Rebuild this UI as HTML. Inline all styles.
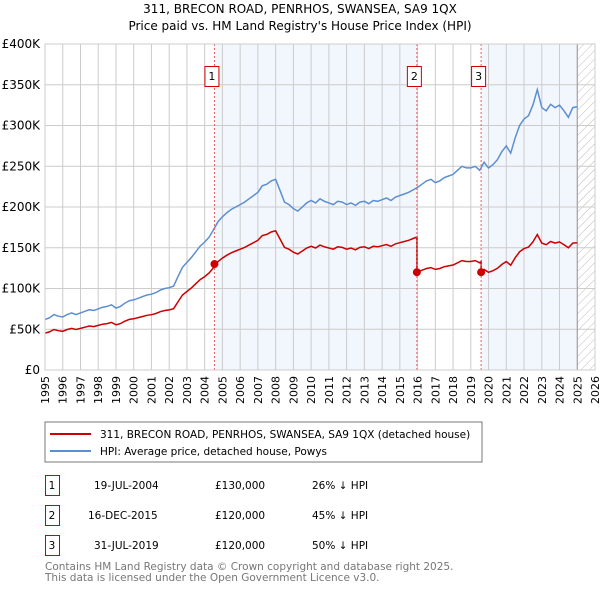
<!DOCTYPE html>
<html><head><meta charset="utf-8"><style>
body{margin:0;background:#fff;font-family:"DejaVu Sans","Liberation Sans",sans-serif;}
svg text{font-family:"DejaVu Sans","Liberation Sans",sans-serif;}
</style></head><body>
<svg id="c" width="600" height="590" xmlns="http://www.w3.org/2000/svg">
<defs><pattern id="hatch" width="6" height="6" patternUnits="userSpaceOnUse" patternTransform="rotate(45)"><line x1="0" y1="0" x2="0" y2="6" stroke="#bbb" stroke-width="1"/></pattern></defs>
<text x="300" y="13" text-anchor="middle" font-size="12">311, BRECON ROAD, PENRHOS, SWANSEA, SA9 1QX</text>
<text x="300" y="30" text-anchor="middle" font-size="12">Price paid vs. HM Land Registry's House Price Index (HPI)</text>
<g id="plot"></g>
<rect x="45" y="422" width="437" height="40" fill="#fff" stroke="#777"/>
<line x1="50" y1="434" x2="91" y2="434" stroke="#cc0000" stroke-width="2"/>
<text x="100" y="438" font-size="10.5">311, BRECON ROAD, PENRHOS, SWANSEA, SA9 1QX (detached house)</text>
<line x1="50" y1="451" x2="91" y2="451" stroke="#5b8fd0" stroke-width="2"/>
<text x="100" y="455" font-size="10.5">HPI: Average price, detached house, Powys</text>
<g font-size="10.5">
<rect x="45.5" y="475.5" width="14" height="20" fill="none" stroke="#cc0000"/><text x="52" y="489" text-anchor="middle">1</text>
<text x="94" y="489">19-JUL-2004</text><text x="215" y="489">£130,000</text><text x="312" y="489">26% ↓ HPI</text>
<rect x="45.5" y="505.5" width="14" height="20" fill="none" stroke="#cc0000"/><text x="52" y="519" text-anchor="middle">2</text>
<text x="88" y="519">16-DEC-2015</text><text x="215" y="519">£120,000</text><text x="312" y="519">45% ↓ HPI</text>
<rect x="45.5" y="535.5" width="14" height="20" fill="none" stroke="#cc0000"/><text x="52" y="549" text-anchor="middle">3</text>
<text x="94" y="549">31-JUL-2019</text><text x="215" y="549">£120,000</text><text x="312" y="549">50% ↓ HPI</text>
</g>
<text x="45" y="570" font-size="10.5" fill="#777">Contains HM Land Registry data © Crown copyright and database right 2025.</text>
<text x="45" y="581" font-size="10.5" fill="#777">This data is licensed under the Open Government Licence v3.0.</text>
</svg>
<script>
const yearTicks=[1995,1996,1997,1998,1999,2000,2001,2002,2003,2004,2005,2006,2007,2008,2009,2010,2011,2012,2013,2014,2015,2016,2017,2018,2019,2020,2021,2022,2023,2024,2025,2026];
const priceTicks=[0,50,100,150,200,250,300,350,400];
const priceLabels=["£0","£50K","£100K","£150K","£200K","£250K","£300K","£350K","£400K"];
const hpiStart=1995;
const hpiQuarterly=[62,64,68,66,65,68,70,68,70,72,74,73,75,77,78,80,76,78,82,85,86,88,90,92,93,95,98,100,101,103,115,126,132,138,145,152,157,163,172,182,188,193,197,200,203,206,210,214,218,226,228,232,234,220,206,203,198,195,200,205,208,205,210,207,205,203,207,206,203,205,202,206,207,204,208,207,209,211,208,212,214,216,218,221,224,228,232,234,230,232,236,238,240,245,250,248,248,250,245,255,248,252,258,268,275,266,285,300,308,312,325,344,322,318,326,322,325,318,310,322,323];
const saleDates=[2004.55,2015.96,2019.58];
const salePrices=[130,120,120];
const saleLabels=["1","2","3"];
const ratioBeforeFirst=0.73;

const X0=45,X1=595,Y0=370,Y1=44;
const xs=t=>X0+(t-1995)/(2026-1995)*(X1-X0);
const ys=v=>Y0-v/400*(Y0-Y1);
const NS="http://www.w3.org/2000/svg";
const g=document.getElementById('plot');
function mk(tag,attrs,parent){const e=document.createElementNS(NS,tag);for(const k in attrs)e.setAttribute(k,attrs[k]);(parent||g).appendChild(e);return e;}
const s1=mk('rect',{x:xs(saleDates[0]),y:Y1,width:xs(saleDates[1])-xs(saleDates[0]),height:Y0-Y1,fill:'#f2f6fd'});


const s3=mk('rect',{x:xs(saleDates[2]),y:Y1,width:xs(2025)-xs(saleDates[2]),height:Y0-Y1,fill:'#f2f6fd'});


const hz=mk('rect',{x:xs(2025),y:Y1,width:X1-xs(2025),height:Y0-Y1,fill:'url(#hatch)'});


yearTicks.forEach(y=>{
  const l=mk('line',{x1:xs(y),x2:xs(y),y1:Y1,y2:Y0,stroke:'#ccc'});
  
  
  const t=mk('text',{x:0,y:0,'font-size':11,'text-anchor':'end',transform:`translate(${xs(y)+4},${Y0+6}) rotate(-90)`});
  t.textContent=y;
  
  
});
priceTicks.forEach((v,i)=>{
  const l=mk('line',{x1:X0,x2:X1,y1:ys(v),y2:ys(v),stroke:'#ccc'});
  
  
  const t=mk('text',{x:X0-5,y:ys(v)+4,'font-size':12,'text-anchor':'end'});
  t.textContent=priceLabels[i];
  
  
});
const vl=mk('line',{x1:xs(2025),x2:xs(2025),y1:Y1,y2:Y0,stroke:'#999'});


const hpiT=hpiQuarterly.map((v,i)=>hpiStart+i*0.25);
function hpiAt(t){let i=Math.min(Math.floor((t-hpiStart)*4),hpiQuarterly.length-2);const f=(t-hpiT[i])*4;return hpiQuarterly[i]*(1-f)+hpiQuarterly[i+1]*f;}
const hp=mk('path',{d:hpiT.map((t,i)=>(i?'L':'M')+xs(t).toFixed(1)+','+ys(hpiQuarterly[i]).toFixed(1)).join(''),fill:'none',stroke:'#5b8fd0','stroke-width':1.5});


let pts=[];
const r2=salePrices[1]/hpiAt(saleDates[1]),r3=salePrices[2]/hpiAt(saleDates[2]);
hpiT.forEach((t,i)=>{
  if(t<saleDates[1]) pts.push([t,hpiQuarterly[i]*ratioBeforeFirst]);
  if(t>saleDates[1]&&t<saleDates[2]) pts.push([t,hpiQuarterly[i]*r2]);
  if(t>saleDates[2]) pts.push([t,hpiQuarterly[i]*r3]);
  if(t<saleDates[1]&&t+0.25>saleDates[1]){pts.push([saleDates[1],hpiAt(saleDates[1])*ratioBeforeFirst]);pts.push([saleDates[1],salePrices[1]]);}
  if(t<saleDates[2]&&t+0.25>saleDates[2]){pts.push([saleDates[2],hpiAt(saleDates[2])*r2]);pts.push([saleDates[2],salePrices[2]]);}
});
const pp=mk('path',{d:pts.map((p,i)=>(i?'L':'M')+xs(p[0]).toFixed(1)+','+ys(p[1]).toFixed(1)).join(''),fill:'none',stroke:'#cc0000','stroke-width':1.5});


saleDates.forEach((d,i)=>{
  const l=mk('line',{x1:xs(d),x2:xs(d),y1:Y1,y2:Y0,stroke:'#e06060','stroke-dasharray':'2,2'});
  
  
  const c=mk('circle',{cx:xs(d),cy:ys(salePrices[i]),r:4,fill:'#cc0000'});
  
  
  const b=mk('rect',{x:xs(d)-9.5,y:66.5,width:14,height:20,fill:'#fff',stroke:'#cc0000'});
  
  
  const t=mk('text',{x:xs(d)-2.5,y:80,'font-size':11,'text-anchor':'middle'});
  t.textContent=saleLabels[i];
  
  
});
const fr=mk('rect',{x:X0,y:Y1,width:X1-X0,height:Y0-Y1,fill:'none',stroke:'#ccc'});


</script>
</body></html>
